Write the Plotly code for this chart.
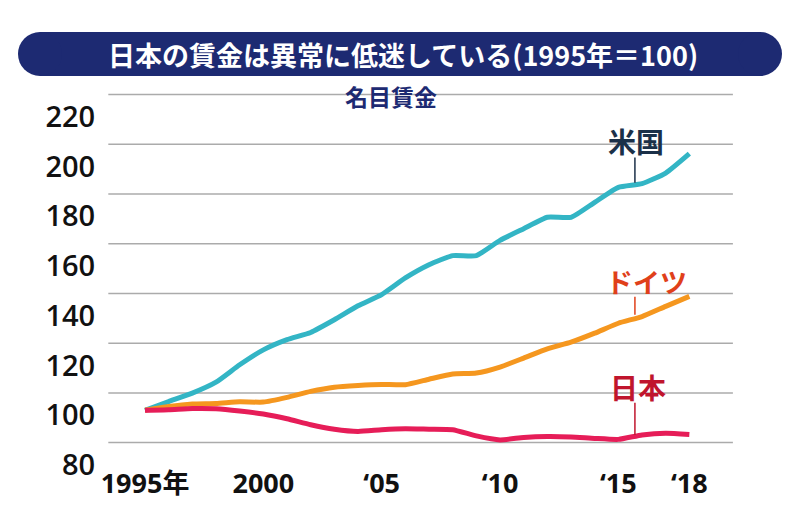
import plotly.graph_objects as go

years = list(range(1995, 2019))
usa = [100, 103.5, 106.9, 111.3, 118.3, 124.3, 128.4, 131.3, 136.4, 142.0, 146.5, 153.2,
       158.5, 162.2, 162.2, 168.3, 173.0, 177.6, 177.6, 183.6, 189.6, 191.1, 195.4, 203.2]
germany = [100, 101.5, 102.5, 102.7, 103.4, 103.3, 105.2, 107.6, 109.3, 110.0, 110.4, 110.3,
           112.5, 114.6, 115.0, 117.4, 121.0, 124.7, 127.4, 131.0, 135.0, 137.7, 141.8, 145.8]
japan = [100, 100.2, 100.7, 100.6, 99.7, 98.5, 96.6, 94.2, 92.4, 91.5, 92.2, 92.6,
         92.4, 92.2, 89.7, 88.1, 89.1, 89.5, 89.3, 88.7, 88.3, 90.1, 90.8, 90.3]

x_tickvals = [1995, 2000, 2005, 2010, 2015, 2018]
x_ticktext = ["1995年", "2000", "‘05", "‘10", "‘15", "‘18"]
y_tickvals = [80, 100, 120, 140, 160, 180, 200, 220]
grid_vals = [87, 107, 127, 147, 167, 187, 207, 227]

title_text = "日本の賃金は異常に低迷している(1995年＝100)"
subtitle_text = "名目賃金"

NAVY = "#1d2a72"
W, H = 800, 521
L, R, T, B = 105, 20, 82, 56
XR = [1993.31, 2021.83]
YR = [78, 232]

def px2paper_x(px):
    return (px - L) / (W - L - R)

def px2paper_y(py):
    return (H - B - py) / (H - T - B)

fig = go.Figure()
series = [("米国", usa, "#33b5c5"), ("ドイツ", germany, "#f5971f"), ("日本", japan, "#e61d58")]
for name, vals, col in series:
    fig.add_trace(go.Scatter(x=years, y=vals, mode="lines", name=name,
                             line=dict(color=col, width=5, shape="spline", smoothing=0.5),
                             hoverinfo="x+y"))

shapes = []
for g in grid_vals:
    shapes.append(dict(type="line", xref="x", yref="y", x0=1993.45, x1=2019.84, y0=g, y1=g,
                       line=dict(color="#ababab", width=1.5), layer="below"))

# title pill
px0, px1, py0, py1 = 18, 782, 32, 76
r = (py1 - py0) / 2
shapes.append(dict(type="rect", xref="paper", yref="paper",
                   x0=px2paper_x(px0 + r), x1=px2paper_x(px1 - r),
                   y0=px2paper_y(py1), y1=px2paper_y(py0),
                   fillcolor=NAVY, line=dict(width=0)))
for cx in (px0 + r, px1 - r):
    shapes.append(dict(type="circle", xref="paper", yref="paper",
                       x0=px2paper_x(cx - r), x1=px2paper_x(cx + r),
                       y0=px2paper_y(py1), y1=px2paper_y(py0),
                       fillcolor=NAVY, line=dict(width=0)))

# leader lines
leaders = [(2015.7, 201.6, 191.5, "#1b3048"), (2015.7, 145.7, 138.4, "#e0401a"),
           (2015.7, 103.0, 90.1, "#c0152d")]
for lx, ly0, ly1, col in leaders:
    shapes.append(dict(type="line", xref="x", yref="y", x0=lx, x1=lx, y0=ly0, y1=ly1,
                       line=dict(color=col, width=1.5)))

annotations = [
    dict(text=title_text, xref="paper", yref="paper", x=px2paper_x(403), y=px2paper_y(54),
         showarrow=False, xanchor="center", yanchor="middle",
         font=dict(family="Noto Sans CJK JP", size=27, color="white", weight="bold")),
    dict(text=subtitle_text, xref="paper", yref="paper", x=px2paper_x(391), y=px2paper_y(96),
         showarrow=False, xanchor="center", yanchor="middle",
         font=dict(family="Noto Sans CJK JP", size=23, color=NAVY, weight="bold")),
    dict(text="米国", x=2015.74, y=208.3, xref="x", yref="y", showarrow=False,
         font=dict(family="Noto Sans CJK JP", size=28, color="#1b3048", weight="bold")),
    dict(text="ドイツ", x=2016.2, y=151.9, xref="x", yref="y", showarrow=False,
         font=dict(family="Noto Sans CJK JP", size=27, color="#e0401a", weight="bold")),
    dict(text="日本", x=2015.83, y=109.3, xref="x", yref="y", showarrow=False,
         font=dict(family="Noto Sans CJK JP", size=28, color="#c0152d", weight="bold")),
]

fig.update_layout(
    width=W, height=H, autosize=False,
    margin=dict(l=L, r=R, t=T, b=B, pad=0),
    paper_bgcolor="white", plot_bgcolor="white",
    showlegend=False,
    shapes=shapes, annotations=annotations,
    xaxis=dict(range=XR, showgrid=False, zeroline=False, showline=False,
               tickmode="array", tickvals=x_tickvals, ticktext=x_ticktext,
               ticks="", ticklen=0,
               tickfont=dict(family="Open Sans, Noto Sans CJK JP", size=27, color="#111111", weight="bold")),
    yaxis=dict(range=YR, showgrid=False, zeroline=False, showline=False,
               tickmode="array", tickvals=y_tickvals,
               ticks="outside", ticklen=3, tickcolor="rgba(0,0,0,0)",
               ticklabelshift=5,
               tickfont=dict(family="Open Sans", size=29, color="#111111", weight=600)),
)

fig.write_html("out.html", config={"displayModeBar": False},
               post_script="document.body.style.margin='0';document.body.style.overflow='hidden';")
